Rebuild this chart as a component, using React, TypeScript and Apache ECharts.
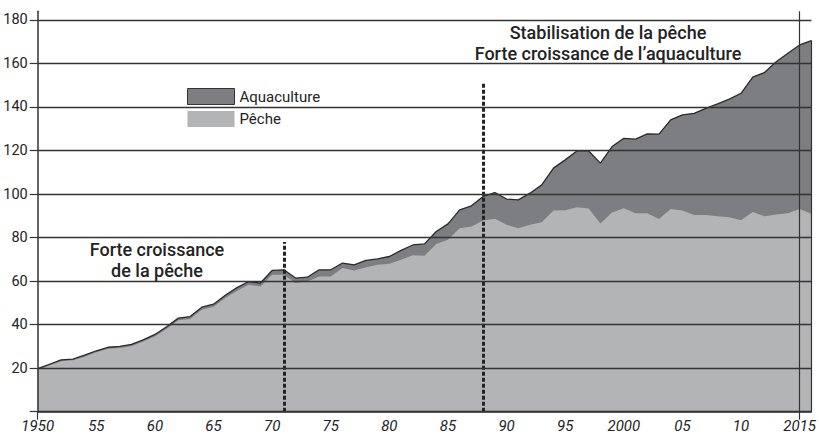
import React, { useEffect, useRef } from "react";
import * as echarts from "echarts";

const years = [
  1950, 1951, 1952, 1953, 1954, 1955, 1956, 1957, 1958, 1959,
  1960, 1961, 1962, 1963, 1964, 1965, 1966, 1967, 1968, 1969,
  1970, 1971, 1972, 1973, 1974, 1975, 1976, 1977, 1978, 1979,
  1980, 1981, 1982, 1983, 1984, 1985, 1986, 1987, 1988, 1989,
  1990, 1991, 1992, 1993, 1994, 1995, 1996, 1997, 1998, 1999,
  2000, 2001, 2002, 2003, 2004, 2005, 2006, 2007, 2008, 2009,
  2010, 2011, 2012, 2013, 2014, 2015, 2016,
];

// Production totale (pêche + aquaculture), millions de tonnes
const total = [
  19.8, 21.8, 23.8, 24.2, 26.0, 28.0, 29.6, 30.0, 30.9, 33.0,
  35.5, 39.0, 43.0, 43.7, 48.0, 49.4, 53.5, 57.0, 59.8, 59.1,
  64.9, 65.2, 61.4, 61.8, 65.2, 65.2, 68.3, 67.5, 69.5, 70.2,
  71.3, 74.1, 76.6, 77.1, 82.8, 86.3, 92.7, 94.6, 98.9, 100.7,
  97.7, 97.3, 100.4, 104.2, 111.9, 115.7, 119.8, 119.8, 114.2, 121.8,
  125.6, 125.2, 127.6, 127.5, 134.1, 136.4, 137.1, 139.4, 141.4, 143.6,
  146.3, 153.7, 155.8, 160.8, 164.7, 168.5, 170.5,
];

// Pêche
const peche = [
  19.2, 21.2, 23.2, 23.6, 25.3, 27.3, 28.9, 29.3, 30.1, 32.2,
  34.6, 38.1, 42.0, 42.6, 46.8, 48.2, 52.2, 55.5, 58.3, 57.5,
  62.9, 62.9, 59.1, 59.8, 62.1, 62.1, 66.0, 64.9, 66.4, 67.5,
  68.0, 69.8, 71.9, 71.6, 77.1, 79.0, 84.3, 85.1, 87.8, 88.6,
  85.9, 84.3, 85.9, 87.0, 92.4, 92.5, 93.9, 93.3, 86.5, 91.5,
  93.5, 91.2, 91.2, 88.5, 93.1, 92.4, 90.4, 90.4, 89.8, 89.3,
  88.0, 91.7, 89.8, 90.6, 91.2, 93.1, 91.0,
];

const xLabelYears = [1950, 1955, 1960, 1965, 1970, 1975, 1980, 1985, 1990, 1995, 2000, 2005, 2010, 2015];
const xTickYears = [1950, 2015];
const yTicks = [0, 20, 40, 60, 80, 100, 120, 140, 160, 180];
const yLabels = [20, 40, 60, 80, 100, 120, 140, 160, 180];
const yMax = 184;

// Dashed period separators: [year, top value]
const separators: [number, number][] = [
  [1971, 78],
  [1988, 151],
];
const lastYearMark = 2015;

const noteLeft = ["Forte croissance", "de la pêche"];
const noteRight = ["Stabilisation de la pêche", "Forte croissance de l’aquaculture"];

const DARK = "#7d7e81";
const LIGHT = "#b3b4b6";
const INK = "#232323";

export default function App() {
  const ref = useRef<HTMLDivElement>(null);

  useEffect(() => {
    if (!ref.current) return;
    const chart = echarts.init(ref.current, undefined, { renderer: "svg" });

    const totalData = years.map((y, i) => [y, total[i]]);
    const pecheData = years.map((y, i) => [y, peche[i]]);
    const lastIdx = years.length - 1;

    const markLines: any[] = separators.map(([yr, top]) => [
      { coord: [yr, 0], lineStyle: { type: [4, 2], width: 3, color: INK } },
      { coord: [yr, top] },
    ]);
    markLines.push([
      { coord: [lastYearMark, 0], lineStyle: { type: "solid", width: 1.2, color: "#333" } },
      { coord: [lastYearMark, yMax] },
    ]);
    markLines.push([
      { coord: [years[lastIdx], 0], lineStyle: { type: "solid", width: 1.2, color: "#333" } },
      { coord: [years[lastIdx], total[lastIdx]] },
    ]);

    const noteStyle = {
      fontFamily: "Roboto",
      fontWeight: 500,
      fontSize: 18,
      fill: INK,
      align: "center",
      verticalAlign: "middle",
    };

    const option: any = {
      animation: false,
      grid: { left: 37.7, right: 4, top: 11.2, bottom: 27.3, containLabel: false },
      legend: {
        orient: "vertical",
        left: 187,
        top: 88,
        itemWidth: 47,
        itemHeight: 16,
        itemGap: 6,
        padding: 0,
        textStyle: { fontFamily: "Roboto", fontSize: 15, color: INK },
        data: [
          { name: "Aquaculture", icon: "rect", itemStyle: { color: DARK, borderColor: "#333", borderWidth: 1 } },
          { name: "Pêche", icon: "rect", itemStyle: { color: LIGHT, borderWidth: 0 } },
        ],
      },
      xAxis: {
        type: "value",
        min: years[0],
        max: years[lastIdx],
        z: 10,
        axisLine: { show: true, onZero: true, lineStyle: { color: "#333", width: 1.5 } },
        axisTick: { show: true, customValues: xTickYears, length: 8, lineStyle: { color: "#333", width: 1.2 } },
        splitLine: { show: false },
        axisLabel: {
          customValues: xLabelYears,
          margin: 7,
          fontFamily: "Roboto",
          fontStyle: "italic",
          fontSize: 15,
          color: INK,
          formatter: (v: number) =>
            v === 1950 || v === 2000 || v === 2015 ? String(v) : String(v % 100).padStart(2, "0"),
        },
      },
      yAxis: {
        type: "value",
        min: 0,
        max: yMax,
        z: 10,
        axisLine: { show: true, lineStyle: { color: "#333", width: 1.5 } },
        axisTick: { show: true, customValues: yTicks, length: 8, lineStyle: { color: "#333", width: 1.2 } },
        splitLine: { show: true, lineStyle: { color: "#333", width: 1.3 } },
        axisLabel: {
          customValues: yLabels,
          margin: 10,
          fontFamily: "Roboto",
          fontSize: 14.5,
          color: INK,
        },
      },
      series: [
        {
          name: "Aquaculture",
          type: "line",
          data: totalData,
          symbol: "none",
          showSymbol: false,
          z: 2,
          color: DARK,
          lineStyle: { color: "#2a2a2a", width: 1.3 },
          areaStyle: { color: DARK, opacity: 1 },
        },
        {
          name: "Pêche",
          type: "line",
          data: pecheData,
          symbol: "none",
          showSymbol: false,
          z: 3,
          color: LIGHT,
          lineStyle: { width: 0, color: LIGHT },
          areaStyle: { color: LIGHT, opacity: 1 },
          markLine: {
            silent: true,
            symbol: ["none", "none"],
            label: { show: false },
            emphasis: { disabled: true },
            data: markLines,
          },
        },
      ],
      graphic: [
        { type: "text", x: 157, y: 249, style: { ...noteStyle, text: noteLeft[0] } },
        { type: "text", x: 157, y: 270, style: { ...noteStyle, text: noteLeft[1] } },
        { type: "text", x: 608, y: 32, style: { ...noteStyle, text: noteRight[0] } },
        { type: "text", x: 608, y: 53, style: { ...noteStyle, text: noteRight[1] } },
      ],
    };

    chart.setOption(option);
    return () => chart.dispose();
  }, []);

  return (
    <div
      ref={ref}
      style={{ position: "fixed", left: 0, top: 0, width: 819, height: 439, background: "#fff" }}
    />
  );
}
